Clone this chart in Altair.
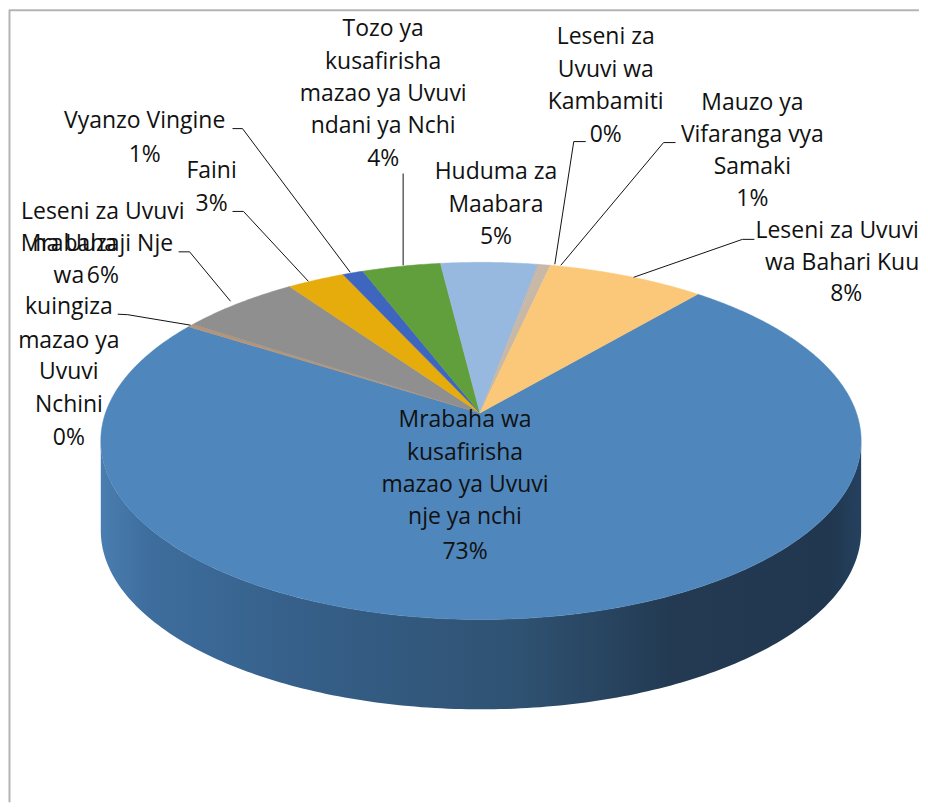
import math
import altair as alt
import pandas as pd

# Slices, clockwise from the right edge of the large slice
slice_names = ["Mrabaha nje", "Mrabaha kuingiza", "Uuzaji Nje", "Faini", "Vyanzo Vingine",
               "Tozo ndani", "Huduma Maabara", "Kambamiti", "Vifaranga", "Bahari Kuu"]
slice_values = [73.2, 0.3, 5.8, 2.8, 1.0, 3.8, 4.7, 0.1, 0.5, 7.6]
slice_colors = ["#4F86BB", "#B5957A", "#8F8F8F", "#E6AC0C", "#3F66BE",
                "#619E3C", "#97B9E0", "#C5B5A5", "#C8B8A8", "#FAC878"]

# Label lines: text, centre x, centre y (picture pixels)
label_text = ["Tozo ya", "kusafirisha", "mazao ya Uvuvi", "ndani ya Nchi", "4%",
              "Vyanzo Vingine", "1%", "Faini", "3%",
              "Leseni za Uvuvi", "na Uuzaji Nje", "6%",
              "Mrabaha", "wa", "kuingiza", "mazao ya", "Uvuvi", "Nchini", "0%",
              "Huduma za", "Maabara", "5%",
              "Leseni za", "Uvuvi wa", "Kambamiti", "0%",
              "Mauzo ya", "Vifaranga vya", "Samaki", "1%",
              "Leseni za Uvuvi", "wa Bahari Kuu", "8%",
              "Mrabaha wa", "kusafirisha", "mazao ya Uvuvi", "nje ya nchi", "73%"]
label_x = [383, 383, 383, 383, 383,
           144, 144, 211, 211,
           102, 102, 102,
           68, 68, 68, 68, 68, 68, 68,
           496, 496, 496,
           606, 606, 606, 606,
           753, 753, 753, 753,
           838, 843, 847,
           465, 465, 465, 465, 465]
label_y = [27, 60, 92, 124, 157,
           119, 153, 170, 203,
           211, 243, 275,
           243, 275, 306, 340, 371, 404, 437,
           171, 204, 236,
           35, 68, 100, 133,
           101, 133, 165, 198,
           230, 262, 293,
           419, 452, 484, 516, 551]

# Leader lines
leader_id = [0, 0, 0, 1, 1, 1, 2, 2, 2, 3, 3, 3, 4, 4, 5, 5, 5, 6, 6, 6, 7, 7, 7]
leader_x = [232, 242, 350, 232, 243, 308, 178, 189, 230, 117, 127, 190, 403, 403,
            586, 574, 555, 676, 664, 561, 755, 743, 634]
leader_y = [127, 127, 271, 210, 210, 280, 250.5, 250.5, 300, 313, 313.5, 324, 172, 264,
            140, 140, 263, 141, 141, 264, 238, 238, 276]

# Pie geometry
CX, CY, A, B, DEPTH = 481, 440, 381, 179, 90
APEX = (480, 412)
START, WARP = 39.5, 0.13
W, H = 912, 794


def rim(theta_deg):
    th = math.radians(theta_deg)
    t = th - WARP * math.sin(th)
    return CX + A * math.sin(t), CY - B * math.cos(t)


features = []
total = sum(slice_values)
cum = START
for name, value in zip(slice_names, slice_values):
    span = value / total * 360
    n = max(2, int(span / 0.5))
    ring = [[APEX[0] - 8, APEX[1] - 8]]
    for i in range(n + 1):
        px, py = rim(cum + span * i / n)
        ring.append([px - 8, py - 8])
    ring.append(ring[0])
    features.append({"type": "Feature", "properties": {"name": name},
                     "geometry": {"type": "Polygon", "coordinates": [ring]}})
    cum += span

wall_rows = []
for d in range(90, 271):
    t = math.radians(d)
    wx = CX + A * math.sin(t)
    wy = CY - B * math.cos(t)
    wall_rows.append({"x": wx, "y": wy, "y2": wy + DEPTH})
wall_df = pd.DataFrame(wall_rows).sort_values("x")

X = alt.X("x:Q", scale=alt.Scale(domain=[8, 8 + W]), axis=None)
Y = alt.Y("y:Q", scale=alt.Scale(domain=[8, 8 + H], reverse=True), axis=None)

frame_v = alt.Chart(pd.DataFrame({"x": [8.5], "y": [8], "y2": [8 + H]})).mark_rule(
    color="#B4B4B4", strokeWidth=2).encode(x=X, y=Y, y2="y2:Q")
frame_h = alt.Chart(pd.DataFrame({"x": [8], "x2": [8 + W], "y": [8.5]})).mark_rule(
    color="#B4B4B4", strokeWidth=2).encode(x=X, x2="x2:Q", y=Y)

wall = alt.Chart(wall_df).mark_area(
    color=alt.LinearGradient(
        gradient="linear", x1=0, x2=1, y1=0, y2=0,
        stops=[alt.GradientStop(color="#4A7EB0", offset=0),
               alt.GradientStop(color="#3E6E9E", offset=0.06),
               alt.GradientStop(color="#36608A", offset=0.25),
               alt.GradientStop(color="#2F5272", offset=0.55),
               alt.GradientStop(color="#233A52", offset=0.75),
               alt.GradientStop(color="#20374F", offset=0.96),
               alt.GradientStop(color="#25415F", offset=1)])
).encode(x=X, y=Y, y2="y2:Q")

top = alt.Chart(alt.InlineData(
    values={"type": "FeatureCollection", "features": features},
    format=alt.DataFormat(property="features", type="json"))
).mark_geoshape(strokeWidth=0.5).encode(
    color=alt.Color("properties.name:N", legend=None,
                    scale=alt.Scale(domain=slice_names, range=slice_colors)),
    stroke=alt.Color("properties.name:N", legend=None,
                     scale=alt.Scale(domain=slice_names, range=slice_colors)),
).project(type="identity", scale=1, translate=[0, 0])

leaders = alt.Chart(pd.DataFrame({"id": leader_id, "x": leader_x, "y": leader_y,
                                  "o": range(len(leader_x))})).mark_line(
    color="#111111", strokeWidth=1).encode(x=X, y=Y, detail="id:N", order="o:Q")

texts = alt.Chart(pd.DataFrame({"t": label_text, "x": label_x, "y": label_y})).mark_text(
    font="Open Sans", fontSize=23, color="#111111", align="center", baseline="middle"
).encode(x=X, y=Y, text="t:N")

chart = alt.layer(
    frame_v, frame_h, wall, top, leaders, texts
).properties(width=W, height=H, padding=0, background="white").configure_view(stroke=None)

chart.save("out.html", embed_options={"renderer": "svg", "actions": False})
